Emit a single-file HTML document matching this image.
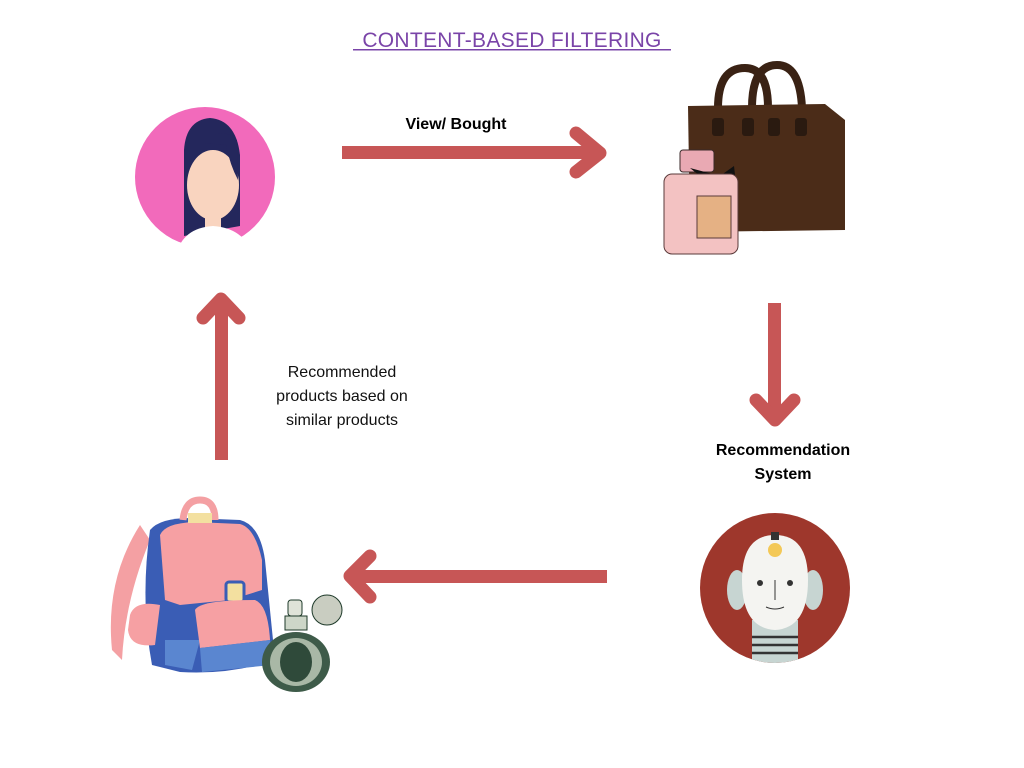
<!DOCTYPE html>
<html><head><meta charset="utf-8"><style>
html,body{margin:0;padding:0;background:#fff;width:1024px;height:768px;overflow:hidden}
svg{display:block}
text{font-family:"Liberation Sans",sans-serif}
</style></head><body>
<svg width="1024" height="768" viewBox="0 0 1024 768" xmlns="http://www.w3.org/2000/svg">
<defs>
<clipPath id="pc2"><rect x="130" y="90" width="150" height="167"/></clipPath>
<clipPath id="rc"><circle cx="775" cy="588" r="75"/></clipPath>
</defs>
<text x="512" y="47" text-anchor="middle" font-size="21" fill="#7a44a8" letter-spacing="0.3">CONTENT-BASED FILTERING</text>
<rect x="353" y="49" width="318" height="1.5" fill="#7a44a8"/>

<!-- person -->
<g clip-path="url(#pc2)">
<circle cx="205" cy="177" r="70" fill="#f26abb"/>
<path d="M184 236 L184 150 Q186 120 210 118 Q236 120 240 155 L240 226 Z" fill="#24275c"/>
<ellipse cx="213" cy="185" rx="26" ry="35" fill="#f9d4bf"/>
<rect x="205" y="215" width="16" height="14" fill="#f9d4bf"/>
<path d="M175 260 Q180 228 213 226 Q246 228 255 260 Z" fill="#fff"/>
<path d="M205 143 Q220 125 237 140 L238 180 Q230 165 226 145 Z" fill="#24275c"/>
</g>

<!-- arrows -->
<g fill="#c75656" stroke="#c75656">
<rect x="342" y="146" width="255" height="13" stroke="none"/>
<polyline points="576,133 600,153 576,172" fill="none" stroke-width="13" stroke-linecap="round" stroke-linejoin="round"/>
<rect x="768" y="303" width="13" height="112" stroke="none"/>
<polyline points="756,400 775,420 794,400" fill="none" stroke-width="13" stroke-linecap="round" stroke-linejoin="round"/>
<rect x="349" y="570" width="258" height="13" stroke="none"/>
<polyline points="370,556 350,576 370,597" fill="none" stroke-width="13" stroke-linecap="round" stroke-linejoin="round"/>
<rect x="215" y="300" width="13" height="160" stroke="none"/>
<polyline points="203,318 221,299 239,318" fill="none" stroke-width="13" stroke-linecap="round" stroke-linejoin="round"/>
</g>

<text x="456" y="129" text-anchor="middle" font-size="16" font-weight="bold">View/ Bought</text>
<text x="783" y="455" text-anchor="middle" font-size="16" font-weight="bold">Recommendation</text>
<text x="783" y="479" text-anchor="middle" font-size="16" font-weight="bold">System</text>
<g font-size="16" text-anchor="middle" fill="#111">
<text x="342" y="377">Recommended</text>
<text x="342" y="401">products based on</text>
<text x="342" y="425">similar products</text>
</g>

<!-- bag -->
<path d="M718 108 Q718 68 745 68 Q768 68 768 108 M752 108 Q752 65 777 65 Q800 65 802 108" fill="none" stroke="#3a2214" stroke-width="8"/>
<path d="M688 106 L825 104 L845 120 L845 230 L690 232 Z" fill="#4b2c18"/>
<rect x="712" y="118" width="12" height="18" rx="3" fill="#2a1a10"/>
<rect x="742" y="118" width="12" height="18" rx="3" fill="#2a1a10"/>
<rect x="768" y="118" width="12" height="18" rx="3" fill="#2a1a10"/>
<rect x="795" y="118" width="12" height="18" rx="3" fill="#2a1a10"/>
<!-- pink perfume -->
<rect x="680" y="150" width="34" height="22" rx="3" fill="#e9a9b3" stroke="#3a2a2a"/>
<path d="M690 168 L720 176 L734 166 L736 184 L700 176 Z" fill="#111"/>
<rect x="664" y="174" width="74" height="80" rx="8" fill="#f3c2c2" stroke="#5a3a3a"/>
<rect x="697" y="196" width="34" height="42" fill="#e5b184" stroke="#5a3a3a"/>

<!-- robot -->
<circle cx="775" cy="588" r="75" fill="#9e372c"/>
<g clip-path="url(#rc)">
<ellipse cx="737" cy="590" rx="10" ry="20" fill="#c7d5d2"/>
<ellipse cx="813" cy="590" rx="10" ry="20" fill="#c7d5d2"/>
<rect x="752" y="620" width="46" height="50" fill="#c7d5d2"/>
<path d="M742 580 Q742 535 775 535 Q808 535 808 580 Q808 628 775 630 Q742 628 742 580 Z" fill="#f4f4f1"/>
<circle cx="775" cy="550" r="7" fill="#f3c857"/>
<rect x="771" y="532" width="8" height="8" fill="#333"/>
<circle cx="760" cy="583" r="3" fill="#333"/><circle cx="790" cy="583" r="3" fill="#333"/>
<line x1="775" y1="580" x2="775" y2="600" stroke="#333"/>
<path d="M766 607 Q775 611 784 607" fill="none" stroke="#333"/>
<g stroke="#333" stroke-width="2.5"><line x1="752" y1="637" x2="798" y2="637"/><line x1="752" y1="645" x2="798" y2="645"/><line x1="752" y1="653" x2="798" y2="653"/></g>
</g>

<!-- backpack -->
<path d="M140 525 Q105 580 112 650 L122 660 Q125 600 150 540 Z" fill="#f4a0a3"/>
<path d="M150 530 Q160 518 190 518 L240 520 Q260 525 265 560 L275 660 Q230 675 180 672 L152 665 Q140 600 150 530 Z" fill="#3a5db5"/>
<path d="M160 535 Q165 523 195 522 L240 524 Q255 528 262 560 L262 590 L230 600 L180 605 L165 600 Z" fill="#f6a0a3"/>
<path d="M183 520 Q185 500 200 500 Q215 500 215 520" fill="none" stroke="#f4a0a3" stroke-width="7"/>
<rect x="188" y="513" width="24" height="10" fill="#f3e0a0"/>
<rect x="226" y="582" width="18" height="20" rx="3" fill="#f3e0a0" stroke="#3a5db5" stroke-width="3"/>
<path d="M130 615 Q135 600 160 605 L155 645 Q130 648 128 630 Z" fill="#f6a0a3"/>
<path d="M165 640 L165 665 L192 670 L200 640 Z" fill="#5a86d0"/>
<path d="M195 610 Q200 600 255 600 Q268 605 270 640 L200 648 Z" fill="#f6a0a3"/>
<path d="M200 648 L270 640 L272 665 L202 672 Z" fill="#5a86d0"/>
<!-- green perfume -->
<circle cx="327" cy="610" r="15" fill="#c9cdc1" stroke="#1e3a2a"/>
<rect x="288" y="600" width="14" height="16" rx="3" fill="#dfe3d8" stroke="#1e3a2a"/>
<rect x="285" y="616" width="22" height="14" fill="#cdd6c8" stroke="#1e3a2a"/>
<ellipse cx="296" cy="662" rx="34" ry="30" fill="#3e5b49"/>
<ellipse cx="296" cy="662" rx="26" ry="24" fill="#a9b8a6"/>
<ellipse cx="296" cy="662" rx="16" ry="20" fill="#2f4a3a"/>
</svg>
</body></html>
